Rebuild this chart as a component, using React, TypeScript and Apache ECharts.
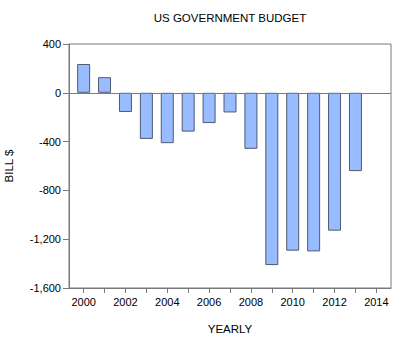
import React, { useEffect, useRef } from "react";
import * as echarts from "echarts";

const years = [2000, 2001, 2002, 2003, 2004, 2005, 2006, 2007, 2008, 2009, 2010, 2011, 2012, 2013];
const budget = [236, 128, -157, -378, -413, -318, -248, -161, -459, -1412, -1294, -1300, -1130, -642];
const xTickYears = [2000, 2001, 2002, 2003, 2004, 2005, 2006, 2007, 2008, 2009, 2010, 2011, 2012, 2013, 2014];
const xLabelYears = [2000, 2002, 2004, 2006, 2008, 2010, 2012, 2014];
const title = "US GOVERNMENT BUDGET";
const yName = "BILL $";
const xName = "YEARLY";

const FONT = "'Liberation Sans', Arial, sans-serif";
const AXIS_COLOR = "#7a7a7a";

export default function App() {
  const ref = useRef<HTMLDivElement>(null);
  useEffect(() => {
    if (!ref.current) return;
    const chart = echarts.init(ref.current, null, { renderer: "svg" });
    chart.setOption({
      animation: false,
      backgroundColor: "#fff",
      textStyle: { fontFamily: FONT },
      grid: {
        left: 69,
        right: 9,
        top: 44,
        bottom: 62,
        show: true,
        borderColor: AXIS_COLOR,
        borderWidth: 1,
        containLabel: false,
      },
      graphic: [
        {
          type: "text",
          x: 230,
          y: 18,
          style: { text: title, fontSize: 11.5, fontFamily: FONT, fill: "#000", textAlign: "center", textVerticalAlign: "middle" },
        },
        {
          type: "text",
          x: 230,
          y: 329,
          style: { text: xName, fontSize: 11.5, fontFamily: FONT, fill: "#000", textAlign: "center", textVerticalAlign: "middle" },
        },
        {
          type: "text",
          x: 9,
          y: 166,
          rotation: Math.PI / 2,
          style: { text: yName, fontSize: 11.5, fontFamily: FONT, fill: "#000", textAlign: "center", textVerticalAlign: "middle" },
        },
      ],
      xAxis: {
        type: "value",
        min: 1999.3,
        max: 2014.7,
        axisLine: { show: true, onZero: false, lineStyle: { color: AXIS_COLOR } },
        axisTick: { show: true, length: 5, customValues: xTickYears, lineStyle: { color: AXIS_COLOR } },
        axisLabel: {
          customValues: xLabelYears,
          color: "#000",
          fontSize: 11,
          fontFamily: FONT,
          margin: 8,
          formatter: (v: number) => String(Math.round(v)),
        },
        splitLine: { show: false },
      },
      yAxis: {
        type: "value",
        min: -1600,
        max: 400,
        interval: 400,
        axisLine: { show: true, onZero: false, lineStyle: { color: AXIS_COLOR } },
        axisTick: { show: true, length: 6, lineStyle: { color: AXIS_COLOR } },
        axisLabel: {
          color: "#000",
          fontSize: 11,
          fontFamily: FONT,
          margin: 8,
          formatter: (v: number) => v.toLocaleString("en-US"),
        },
        splitLine: { show: false },
      },
      series: [
        {
          type: "bar",
          data: years.map((y, i) => [y, budget[i]]),
          barWidth: 13,
          itemStyle: { color: "#99bbff", borderColor: "#4f5b6e", borderWidth: 1 },
          markLine: {
            silent: true,
            symbol: "none",
            label: { show: false },
            lineStyle: { color: AXIS_COLOR, type: "solid", width: 1 },
            data: [{ yAxis: 0 }],
          },
        },
      ],
    });
    return () => chart.dispose();
  }, []);
  return <div ref={ref} style={{ position: "fixed", left: 0, top: 0, width: 400, height: 350 }} />;
}
